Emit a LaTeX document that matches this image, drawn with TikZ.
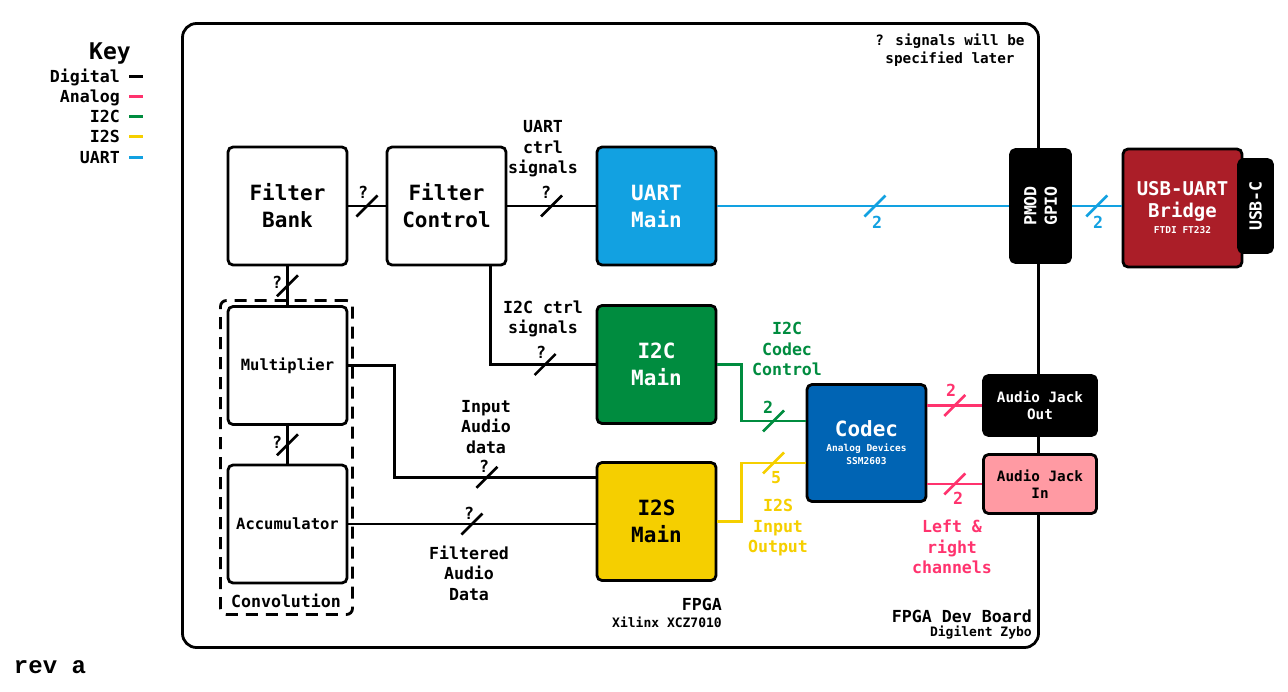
\documentclass[tikz,border=0pt]{standalone}
\usepackage{fontspec}
\setmainfont{DejaVu Sans Mono}
\newfontfamily\revfont{Liberation Mono}
\usetikzlibrary{positioning, calc}
\definecolor{uartblue}{RGB}{18,161,225}
\definecolor{i2cgreen}{RGB}{0,140,63}
\definecolor{i2syellow}{RGB}{245,207,0}
\definecolor{analog}{RGB}{255,51,110}
\definecolor{codecblue}{RGB}{0,100,180}
\definecolor{usbred}{RGB}{171,30,40}
\definecolor{jackpink}{RGB}{255,154,163}
\newcommand\fKey{\bfseries\fontsize{23}{27}\selectfont}
\newcommand\fBig{\bfseries\fontsize{21}{27}\selectfont}
\newcommand\fLbl{\bfseries\fontsize{16.6}{20.5}\selectfont}
\newcommand\fMid{\bfseries\fontsize{15.5}{19}\selectfont}
\newcommand\fJack{\bfseries\fontsize{14.3}{17}\selectfont}
\newcommand\fSub{\bfseries\fontsize{13}{17}\selectfont}
\newcommand\fTiny{\bfseries\fontsize{9.5}{12.5}\selectfont}

\begin{document}
\begin{tikzpicture}[x=1pt, y=-1pt,
    every node/.style={inner sep=0pt},
    box/.style={draw=black, line width=2.8pt, rounded corners=5pt, minimum width=119pt,
                minimum height=118pt, align=center, font=\fBig},
    lbl/.style={align=center, font=\fLbl},
    wire/.style={line width=2.8pt},
    tick/.style={line width=2.6pt}]
  \useasboundingbox (0,0) rectangle (1288,691);

  % key
  \node[font=\fKey] (key) at (110,53) {Key};
  \foreach \lbl/\col [count=\i] in {Digital/black, Analog/analog, I2C/i2cgreen, I2S/i2syellow, UART/uartblue}{
    \node[font=\fLbl, anchor=base east] (key\i) at (120,{76+20.25*(\i-1)+6}) {\lbl};
    \draw[\col, line width=3pt] (129,{76+20.25*(\i-1)}) -- ++(14,0);
  }

  % board and convolution group
  \node[draw, line width=2.8pt, rounded corners=14pt, minimum width=856pt, minimum height=624pt] (board) at (610.5,335.5) {};
  \node[draw, dashed, dash pattern=on 12pt off 8pt, line width=2.8pt, rounded corners=6pt,
        minimum width=132pt, minimum height=314pt] (conv) at (286.5,457.5) {};
  \node[lbl] (convlbl) at (286,601) {Convolution};
  \node[font=\bfseries\fontsize{14.3}{18}\selectfont, align=center] (note) at (950,50) {? signals will be\\specified later};

  % blocks
  \node[box, fill=white] (fbank) at (287.5,206) {Filter\\Bank};
  \node[box, fill=white] (fctrl) at (446.5,206) {Filter\\Control};
  \node[box, fill=uartblue, text=white] (uart) at (656.5,206) {UART\\Main};
  \node[box, fill=i2cgreen, text=white] (i2c) at (656.5,364.5) {I2C\\Main};
  \node[box, fill=i2syellow] (i2s) at (656.5,521.5) {I2S\\Main};
  \node[box, fill=white, font=\fMid] (mult) at (287.5,365.5) {Multiplier};
  \node[box, fill=white, font=\fMid] (acc) at (287.5,524) {Accumulator};
  \node[box, fill=codecblue, text=white, minimum height=117pt] (codec) at (866.5,443)
    {Codec\\[-12pt]{\fTiny Analog Devices}\\[-14pt]{\fTiny SSM2603}};
  \node[box, fill=black, text=white, font=\fJack, minimum width=113pt, minimum height=60pt] (ajout) at (1040,405.5) {Audio Jack\\Out};
  \node[box, fill=jackpink, font=\fJack, minimum width=113pt, minimum height=59pt] (ajin) at (1040,484) {Audio Jack\\In};
  \node[box, fill=black, text=white, font=\fLbl, rotate=90, minimum width=113pt, minimum height=60pt] (pmod) at (1040.5,206) {PMOD\\GPIO};
  \node[box, fill=usbred, text=white, font=\bfseries\fontsize{19}{22}\selectfont] (usb) at (1182.5,208)
    {USB-UART\\Bridge\\[-6pt]{\fTiny FTDI FT232}};
  \node[box, fill=black, text=white, font=\fLbl, rotate=90, minimum width=93pt, minimum height=34pt] (usbc) at (1255.5,206) {USB-C};

  % digital connections
  \draw[wire] (fbank) -- coordinate[midway] (t1) (fctrl);
  \draw[wire] (fctrl) -- coordinate[midway] (t2) (uart);
  \draw[wire] (fbank) -- coordinate[midway] (t4) (mult);
  \draw[wire] (mult) -- coordinate[midway] (t5) (acc);
  \draw[wire] (fctrl.-54) |- coordinate[pos=0.76] (t6) (i2c);
  \draw[wire] (mult.east) -- ++(46,0) |- coordinate[pos=0.73] (t7) (i2s.144);
  \draw[wire] (acc.east) -- coordinate[pos=0.5] (t8) (acc.east -| i2s.west);
  \foreach \t in {t1,t2,t4,t5,t6,t7,t8}
    \draw[tick] (\t) ++(-10.5,10.5) -- ++(21,-21);

  % uart
  \draw[wire, uartblue] (uart) -- coordinate[pos=0.54] (t3) (pmod);
  \draw[wire, uartblue] (pmod) -- coordinate[midway] (t9) (usb.west |- pmod);
  \draw[tick, uartblue] (t3) ++(-10.5,10.5) -- ++(21,-21);
  \draw[tick, uartblue] (t9) ++(-10.5,10.5) -- ++(21,-21);

  % i2c / i2s to codec
  \draw[wire, i2cgreen] (i2c.east) -- ++(24,0) |- coordinate[pos=0.75] (t10) ([yshift=22pt]codec.west);
  \draw[wire, i2syellow] (i2s.east) -- ++(24,0) |- coordinate[pos=0.75] (t11) ([yshift=-20pt]codec.west);
  \draw[tick, i2cgreen] (t10) ++(-10.5,10.5) -- ++(21,-21);
  \draw[tick, i2syellow] (t11) ++(-10.5,10.5) -- ++(21,-21);

  % analog
  \draw[wire, analog] (ajout.west -| codec.east) -- coordinate[midway] (t12) (ajout.west);
  \draw[wire, analog] (ajin.west -| codec.east) -- coordinate[midway] (t13) (ajin.west);
  \draw[tick, analog] (t12) ++(-10.5,10.5) -- ++(21,-21);
  \draw[tick, analog] (t13) ++(-10.5,10.5) -- ++(21,-21);

  % widths
  \foreach \x/\y [count=\i] in {363/192, 546/192, 277/282, 277/442, 541/352, 484/466, 469/513}
    \node[lbl] (q\i) at (\x,\y) {?};
  \node[lbl, text=uartblue] (w1) at (877,222) {2};
  \node[lbl, text=uartblue] (w2) at (1098,222) {2};
  \node[lbl, text=i2cgreen] (w3) at (768,407) {2};
  \node[lbl, text=i2syellow] (w4) at (776,478) {5};
  \node[lbl, text=analog] (w5) at (951,390) {2};
  \node[lbl, text=analog] (w6) at (958,498) {2};

  % signal labels
  \node[lbl] (uartsig) at (543,149) {UART\\ctrl\\signals};
  \node[lbl] (i2csig) at (543,319) {I2C ctrl\\signals};
  \node[lbl] (insig) at (486,427) {Input\\Audio\\data};
  \node[lbl] (filtsig) at (469,573) {Filtered\\Audio\\Data};
  \node[lbl, text=i2cgreen] (codecctl) at (787,349) {I2C\\Codec\\Control};
  \node[lbl, text=i2syellow] (codecio) at (778,528) {I2S\\Input\\Output};
  \node[lbl, text=analog] (chans) at (952,547) {Left \&\\right\\channels};

  % footers
  \node[lbl, anchor=east] (fpga) at (722,604) {FPGA};
  \node[font=\fSub, anchor=east] (fpgapart) at (722,622) {Xilinx XCZ7010};
  \node[lbl, anchor=east] (brd) at (1032,616) {FPGA Dev Board};
  \node[font=\fSub, anchor=east] (brdpart) at (1032,633) {Digilent Zybo};
  \node[font=\revfont\bfseries\fontsize{24}{28}\selectfont] (rev) at (50,667) {rev a};
\end{tikzpicture}
\end{document}
